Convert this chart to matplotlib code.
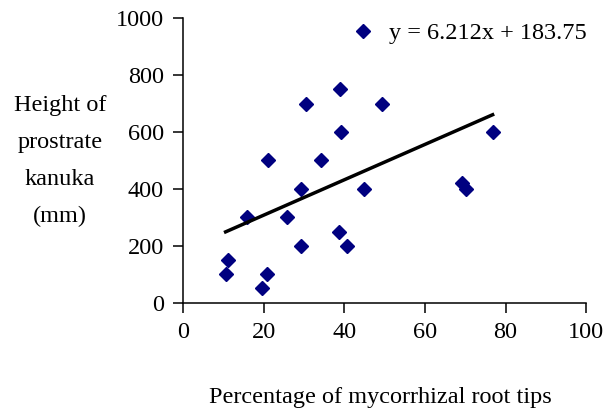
import numpy as np
import matplotlib.pyplot as plt

plt.rcParams['font.family'] = 'Liberation Serif'

# percentage of mycorrhizal root tips vs height of prostrate kanuka (mm)
pct_myco = [39.0, 30.4, 49.4, 39.2, 21.0, 34.2, 29.1, 44.8, 15.9, 25.7,
            38.6, 29.1, 40.6, 11.0, 10.5, 20.7, 19.5, 69.3, 70.1, 76.8]
height_mm = [750, 700, 700, 600, 500, 500, 400, 400, 300, 300,
             250, 200, 200, 150, 100, 100, 50, 420, 400, 600]

# linear trend
slope = 6.212
intercept = 183.75

x_ticks = [0, 20, 40, 60, 80, 100]
y_ticks = [0, 200, 400, 600, 800, 1000]

fig = plt.figure(figsize=(6.07, 4.16), dpi=100)
ax = fig.add_axes([0.302, 0.2724, 0.6635, 0.6837])

x = np.asarray(pct_myco)
pts, = ax.plot(x, height_mm, linestyle='none', marker='D', markersize=7.5,
               color='#000080', label='y = %.3fx + %.2f' % (slope, intercept))
xfit = np.array([x.min(), x.max()])
ax.plot(xfit, slope * xfit + intercept, color='black', linewidth=2.5)

ax.set_xlim(0, 100)
ax.set_ylim(0, 1000)
ax.set_xticks(x_ticks)
ax.set_yticks(y_ticks)
ax.tick_params(direction='out', length=7, width=1.1, labelsize=17.5, pad=7)
for side in ['top', 'right']:
    ax.spines[side].set_visible(False)
for side in ['left', 'bottom']:
    ax.spines[side].set_linewidth(1.1)
    ax.spines[side].set_clip_on(False)

ax.legend(handles=[pts], loc='upper right', frameon=False, fontsize=17.5,
          handletextpad=0.6, handlelength=1.0, borderaxespad=0.0,
          bbox_to_anchor=(1.027, 1.02))

fig.text(0.099, 0.613, 'Height of\nprostrate\nkanuka\n(mm)', ha='center',
         va='center', fontsize=17.5, linespacing=2.0)
fig.text(0.626, 0.045, 'Percentage of mycorrhizal root tips', ha='center',
         va='center', fontsize=17.5)

fig.savefig('out.png', dpi=100)
